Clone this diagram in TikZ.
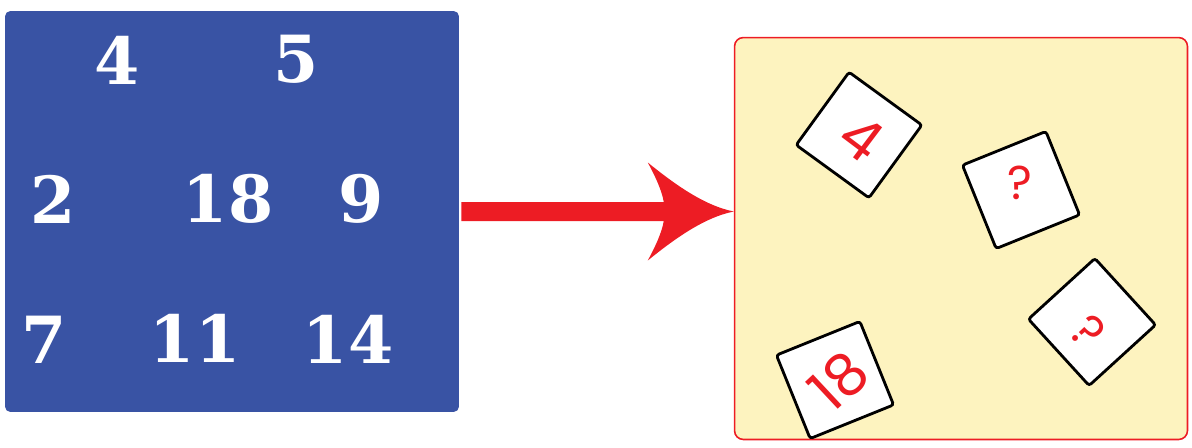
\documentclass[tikz,border=0pt]{standalone}
\usepackage{fontspec}
\usetikzlibrary{calc,positioning}
\newfontfamily\boardfont{DejaVu Serif}
\newfontfamily\cardfont{Poppins}
\definecolor{boardBlue}{HTML}{3953A4}
\definecolor{trayYellow}{HTML}{FDF3BF}
\definecolor{markRed}{HTML}{ED1C24}

\begin{document}
\begin{tikzpicture}[x=0.02cm,y=-0.02cm,
  num/.style={text=white,font=\boardfont\bfseries\fontsize{37}{37}\selectfont,inner sep=0pt},
  card/.style={draw=black,line width=1.6pt,fill=white,rounded corners=1.5pt,
               minimum size=1.8cm,inner sep=0pt},
  lab/.style={text=markRed,font=\cardfont\fontsize{33}{33}\selectfont,inner sep=0pt},
  qlab/.style={lab,font=\cardfont\fontsize{27}{27}\selectfont}]
  \useasboundingbox (0,0) rectangle (1192,447);
  \node[fill=boardBlue,rounded corners=3pt,minimum width=9.08cm,minimum height=8.02cm] (board) at (232,211.5) {};
  \node[fill=trayYellow,draw=markRed,line width=0.9pt,rounded corners=5pt,
        minimum width=9.06cm,minimum height=8.04cm] (tray) at (961,238.5) {};
  % numbers on the board
  \node[num] (n4)  at (117,60)  {4};
  \node[num] (n5)  at (296,59)  {5};
  \node[num] (n2)  at (53,199)  {2};
  \node[num] (n18) at (228,199) {18};
  \node[num] (n9)  at (361,199) {9};
  \node[num] (n7)  at (44,340)  {7};
  \node[num] (n11) at (195,338) {11};
  \node[num] (n14) at (348,339) {14};
  % arrow
  \coordinate (tip) at (tray.west |- board.east);
  \fill[markRed] (board.east) ++(2,-9.5) -- ($(tip)+(-70,-9.5)$)
    .. controls ($(tip)+(-72,-22)$) and ($(tip)+(-80,-38)$) .. ($(tip)+(-86,-49)$)
    .. controls ($(tip)+(-60,-28)$) and ($(tip)+(-30,-6)$) .. (tip)
    .. controls ($(tip)+(-30,6)$) and ($(tip)+(-60,28)$) .. ($(tip)+(-86,49)$)
    .. controls ($(tip)+(-80,38)$) and ($(tip)+(-72,22)$) .. ($(tip)+(-70,9.5)$)
    -- ($(board.east)+(2,9.5)$) -- cycle;
  % cards
  \node[card,rotate=-36] (c4) at (859,135) {};
  \node[lab,rotate=-37] (l4) at (862,138) {4};
  \node[card,rotate=22] (cq1) at (1021,190) {};
  \node[qlab] (lq1) at (1020,183) {?};
  \node[card,rotate=-47.6] (cq2) at (1092,322) {};
  \node[qlab,rotate=-48] (lq2) at (1088,332) {?};
  \node[card,rotate=22] (c18) at (835,380) {};
  \node[lab,rotate=43] (l18) at (839,381) {18};
\end{tikzpicture}
\end{document}
